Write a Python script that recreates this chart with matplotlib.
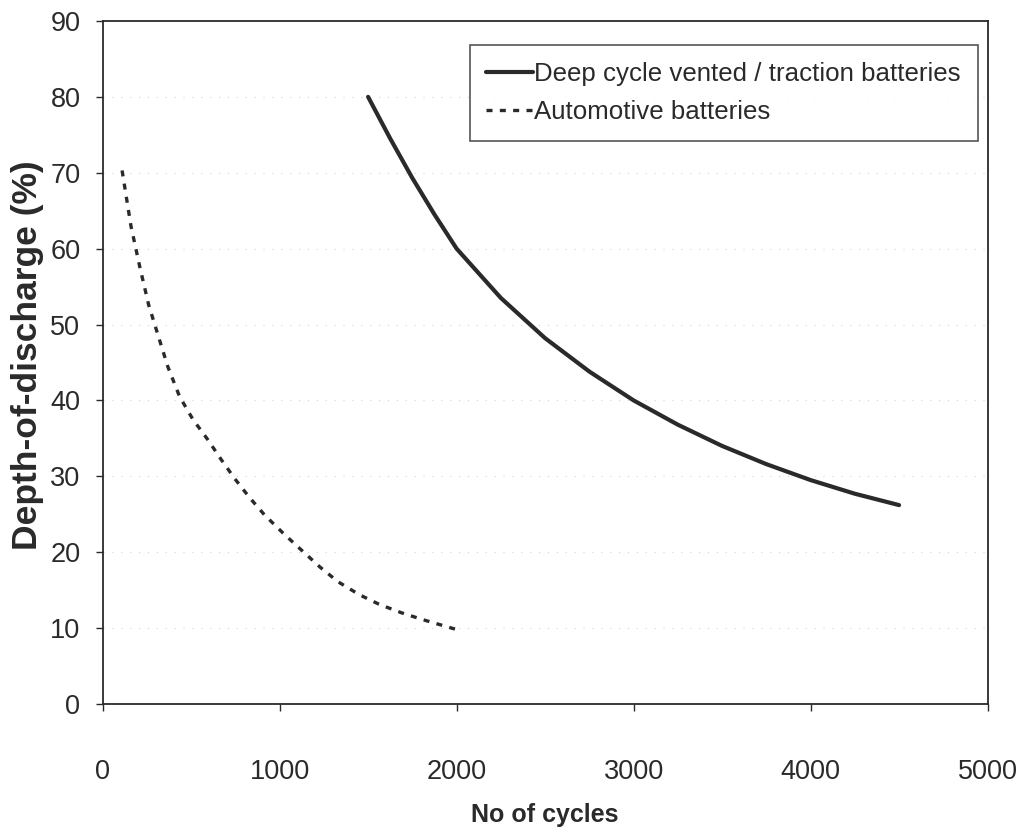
import matplotlib
matplotlib.use("Agg")
import matplotlib.pyplot as plt

# ── Data ──
deep_cycles = [1500, 1625, 1750, 1875, 2000, 2250, 2500, 2750,
               3000, 3250, 3500, 3750, 4000, 4250, 4500]
deep_dod = [80.0, 74.5, 69.3, 64.5, 60.0, 53.5, 48.2, 43.8,
            40.0, 36.8, 34.0, 31.6, 29.5, 27.7, 26.2]

auto_cycles = [110, 160, 210, 260, 313, 369, 435, 510, 595, 670,
               746, 830, 915, 1020, 1122, 1230, 1330, 1450, 1565, 1690, 1810, 2000]
auto_dod = [70.3, 63.0, 57.6, 52.6, 48.6, 44.4, 40.5, 37.5, 34.8, 32.2,
            29.7, 27.2, 24.9, 22.5, 20.3, 18.0, 16.1, 14.4, 13.1, 12.0, 11.1, 9.8]

x_ticks = [0, 1000, 2000, 3000, 4000, 5000]
y_ticks = [0, 10, 20, 30, 40, 50, 60, 70, 80, 90]

plt.rcParams["font.family"] = ["Liberation Sans", "DejaVu Sans"]
INK = "#2a2a2a"

fig = plt.figure(figsize=(10.16, 8.39), dpi=100)
ax = fig.add_axes([0.101, 0.161, 0.871, 0.814])

ax.plot(deep_cycles, deep_dod, color=INK, linewidth=3.0,
        solid_capstyle="round", solid_joinstyle="round",
        label="Deep cycle vented / traction batteries", zorder=3)
ax.plot(auto_cycles, auto_dod, color=INK, linewidth=2.4,
        linestyle=(0, (1.8, 2.2)), label="Automotive batteries", zorder=3)

ax.set_xlim(0, 5000)
ax.set_ylim(0, 90)
ax.set_xticks(x_ticks)
ax.set_yticks(y_ticks)

# faint dotted gridlines (as in the scan)
ax.grid(axis="y", color="#aaaaaa", linestyle=(0, (1, 7)), linewidth=0.8, alpha=0.5)

for s in ax.spines.values():
    s.set_color(INK)
    s.set_linewidth(1.3)

ax.tick_params(axis="both", direction="out", length=5, width=1, color=INK,
               labelsize=19.5, labelcolor=INK)
ax.tick_params(axis="x", pad=35)
ax.tick_params(axis="y", pad=11)

ax.set_xlabel("No of cycles", fontsize=18, fontweight="bold", color=INK)
ax.xaxis.set_label_coords(0.5, -0.145)
ax.set_ylabel("Depth-of-discharge (%)", fontsize=25.5, fontweight="bold", color=INK)
ax.yaxis.set_label_coords(-0.066, 0.511)

leg = ax.legend(loc="upper right", bbox_to_anchor=(0.9887, 0.965), fontsize=18.6,
                frameon=True, fancybox=False, edgecolor=INK, handlelength=1.8,
                handletextpad=0.05, borderpad=0.65, labelspacing=0.55,
                borderaxespad=0)
leg.get_frame().set_linewidth(1.2)
for t in leg.get_texts():
    t.set_color(INK)

fig.savefig("out.png", dpi=100, facecolor="white")
